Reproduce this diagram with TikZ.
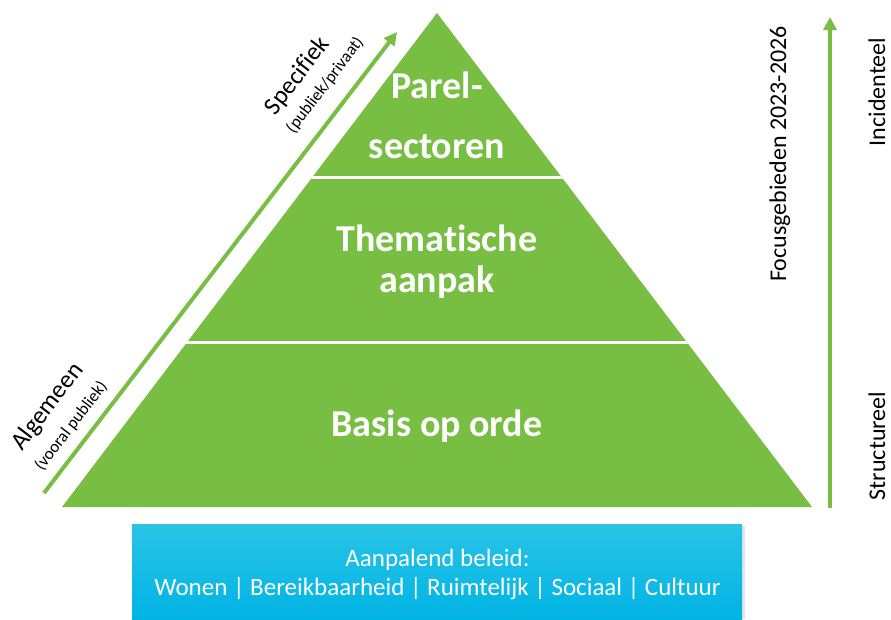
\documentclass[tikz,border=0pt]{standalone}
\usepackage{fontspec}
\setmainfont{Carlito}[Ligatures=CommonOff]
\usetikzlibrary{arrows.meta}
\definecolor{pgreen}{HTML}{77BE43}
\definecolor{btop}{HTML}{2AC3E6}
\definecolor{bbot}{HTML}{00B4E4}
\begin{document}
\begin{tikzpicture}[x=1pt,y=-1pt,
  layertext/.style={text=white,font=\bfseries\fontsize{38}{38}\selectfont,anchor=base,inner sep=0pt},
  bigside/.style={font=\fontsize{25}{25}\selectfont,anchor=base,inner sep=0pt},
  smallside/.style={font=\fontsize{17}{17}\selectfont,anchor=base,inner sep=0pt},
  rightside/.style={font=\fontsize{24}{24}\selectfont,anchor=base,inner sep=0pt,rotate=90},
  boxtext/.style={text=white,font=\fontsize{25}{25}\selectfont,anchor=base,inner sep=0pt},
  greenarrow/.style={draw=pgreen,line width=4pt,-{Triangle[width=13pt,length=13pt]}},
  sepline/.style={draw=white,line width=3pt}
]
\useasboundingbox (0,0) rectangle (891,619);
% pyramid
\coordinate (bl) at (62,507);
\coordinate (top) at (437,13);
\coordinate (br) at (812,507);
\fill[pgreen] (bl) -- (top) -- (br) -- cycle;
\begin{scope}
  \clip (bl) -- (top) -- (br) -- cycle;
  \coordinate (l1a) at (150,177); \coordinate (l1b) at (750,177);
  \coordinate (l2a) at (50,342);  \coordinate (l2b) at (850,342);
  \draw[sepline] (l1a) -- (l1b);
  \draw[sepline] (l2a) -- (l2b);
\end{scope}
\node[layertext] (parel) at (437,98) {Parel-};
\node[layertext] (sectoren) at (437,158) {sectoren};
\node[layertext] (thema) at (437,251) {Thematische};
\node[layertext] (aanpak) at (437,292) {aanpak};
\node[layertext] (basis) at (437,436) {Basis op orde};
% diagonal arrow
\coordinate (dstart) at (44,493);
\coordinate (dend) at (397,32);
\draw[greenarrow] (dstart) -- (dend);
\node[bigside,rotate=52.7] (spec) at (303,80) {Specifiek};
\node[smallside,rotate=52.7] (specsub) at (329,88) {(publiek/privaat)};
\node[bigside,rotate=52.7] (alg) at (53,411) {Algemeen};
\node[smallside,rotate=52.7] (algsub) at (75,429) {(vooral publiek)};
% vertical arrow
\coordinate (vstart) at (830,508);
\coordinate (vend) at (830,17);
\draw[greenarrow,line width=3.5pt] (vstart) -- (vend);
\node[rightside] (focus) at (786,154) {Focusgebieden 2023-2026};
\node[rightside] (incid) at (885,92) {Incidenteel};
\node[rightside] (struct) at (885,446) {Structureel};
% bottom box
\fill[black!10] (134,526) rectangle (745,619);
\node[draw=none,rectangle,minimum width=610pt,minimum height=95pt,inner sep=0pt,
  top color=btop,bottom color=bbot] (beleid) at (437,571.5) {};
\node[boxtext] (bt1) at (437.5,566) {Aanpalend beleid:};
\node[boxtext] (bt2) at (437.5,595) {Wonen | Bereikbaarheid | Ruimtelijk | Sociaal | Cultuur};
\end{tikzpicture}
\end{document}
